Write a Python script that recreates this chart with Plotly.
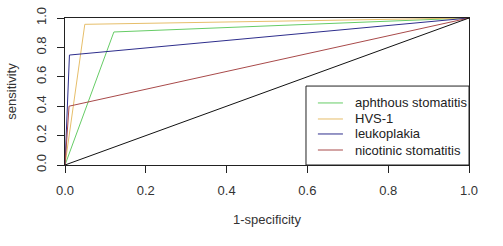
import plotly.graph_objects as go

names = ["aphthous stomatitis", "HVS-1", "leukoplakia", "nicotinic stomatitis"]
fpr = [
    [0.0, 0.121, 1.0],
    [0.0, 0.049, 1.0],
    [0.0, 0.011, 1.0],
    [0.0, 0.010, 1.0],
]
tpr = [
    [0.0, 0.905, 1.0],
    [0.0, 0.957, 1.0],
    [0.0, 0.748, 1.0],
    [0.0, 0.400, 1.0],
]
colors = ["#66CC66", "#E6BE6A", "#2E2E8C", "#A84A4A"]
diag_x = [0.0, 1.0]
diag_y = [0.0, 1.0]
tick_vals = [0.0, 0.2, 0.4, 0.6, 0.8, 1.0]
tick_text = ["0.0", "0.2", "0.4", "0.6", "0.8", "1.0"]

fig = go.Figure()
for n, xs, ys, c in zip(names, fpr, tpr, colors):
    fig.add_trace(go.Scatter(x=xs, y=ys, mode="lines", name=n, showlegend=False,
                             line=dict(color=c, width=1)))
fig.add_trace(go.Scatter(x=diag_x, y=diag_y, mode="lines", showlegend=False,
                         line=dict(color="#111111", width=1)))

font = dict(family="Liberation Sans, Arial, sans-serif", size=13, color="#333333")
axis_common = dict(range=[0, 1], tickvals=tick_vals, ticktext=tick_text,
                   showgrid=False, zeroline=False, showline=True, mirror=True,
                   linecolor="#222222", linewidth=1, ticks="outside", ticklen=7,
                   tickcolor="#222222", tickfont=font, automargin=False)

# Legend box drawn in R style (compact rows)
leg_x0, leg_x1, leg_y0, leg_y1 = 0.5965, 1.0, 0.0, 0.537
sample_x0, sample_x1, text_x = 0.626, 0.688, 0.713
row_y = [0.422, 0.313, 0.211, 0.102]
shapes = [dict(type="rect", xref="paper", yref="paper", x0=leg_x0, x1=leg_x1,
               y0=leg_y0, y1=leg_y1, line=dict(color="#222222", width=1),
               fillcolor="white", layer="above")]
annotations = []
for n, c, ry in zip(names, colors, row_y):
    shapes.append(dict(type="line", xref="paper", yref="paper", x0=sample_x0, x1=sample_x1,
                       y0=ry, y1=ry, line=dict(color=c, width=1), layer="above"))
    annotations.append(dict(text=n, xref="paper", yref="paper", x=text_x, y=ry,
                            xanchor="left", yanchor="middle", showarrow=False,
                            font=dict(family="Liberation Sans, Arial, sans-serif",
                                      size=13, color="#222222")))

fig.update_layout(
    width=503, height=246,
    margin=dict(l=65, r=34, t=18, b=81),
    paper_bgcolor="white", plot_bgcolor="white",
    font=font,
    xaxis=dict(**axis_common, ticklabelstandoff=6,
               title=dict(text="1-specificity", font=font, standoff=18)),
    yaxis=dict(**axis_common, tickangle=-90, ticklabelstandoff=6,
               title=dict(text="sensitivity", font=font, standoff=14)),
    shapes=shapes,
    annotations=annotations,
)
fig.write_html("out.html", config={"displayModeBar": False},
               post_script="document.body.style.margin='0';document.body.style.overflow='hidden';")
